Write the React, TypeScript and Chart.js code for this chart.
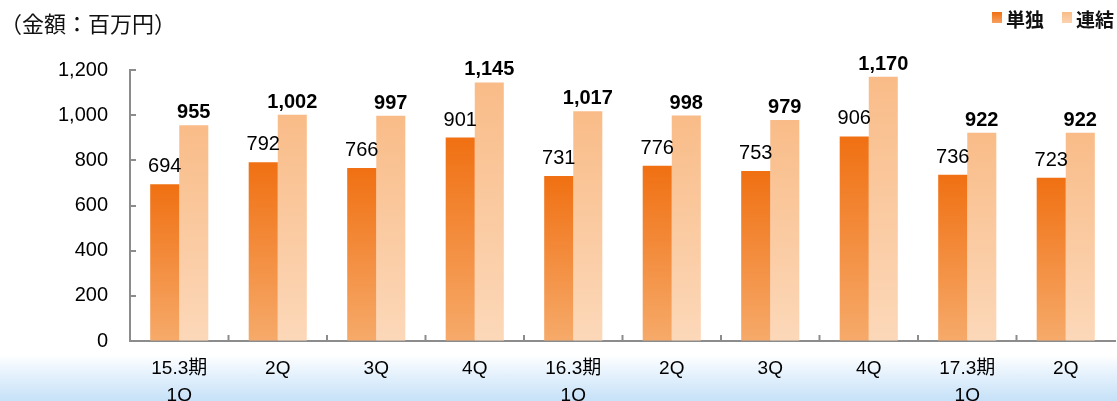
import React, { useEffect, useRef } from "react";
import { Chart, registerables } from "chart.js";

Chart.register(...registerables);

const categories: (string | string[])[] = [
  ["15.3期", "1Q"], "2Q", "3Q", "4Q",
  ["16.3期", "1Q"], "2Q", "3Q", "4Q",
  ["17.3期", "1Q"], "2Q",
];
const tandoku = [694, 792, 766, 901, 731, 776, 753, 906, 736, 723];
const renketsu = [955, 1002, 997, 1145, 1017, 998, 979, 1170, 922, 922];
const seriesNames = ["単独", "連結"];
const yMin = 0;
const yMax = 1200;
const yStep = 200;

const FONT = '"Liberation Sans", "Noto Sans CJK JP", sans-serif';
const CJK = '"Noto Sans CJK JP", "Liberation Sans", sans-serif';

function barGradient(top: string, bottom: string) {
  return (ctx: any) => {
    const chart = ctx.chart;
    const area = chart.chartArea;
    if (!area || ctx.type !== "data" || !chart.scales.y) return top;
    const yTop = chart.scales.y.getPixelForValue(ctx.parsed ? ctx.parsed.y : yMax);
    const g = chart.ctx.createLinearGradient(0, yTop, 0, area.bottom);
    g.addColorStop(0, top);
    g.addColorStop(1, bottom);
    return g;
  };
}

const innerTicks = {
  id: "innerTicks",
  afterDraw(chart: any) {
    const { ctx, chartArea } = chart;
    const ys = chart.scales.y;
    const xs = chart.scales.x;
    ctx.save();
    ctx.strokeStyle = "#8c8c8c";
    ctx.lineWidth = 2;
    ys.ticks.forEach((t: any) => {
      const y = Math.round(ys.getPixelForValue(t.value));
      ctx.beginPath();
      ctx.moveTo(chartArea.left, y);
      ctx.lineTo(chartArea.left + 6, y);
      ctx.stroke();
    });
    for (let i = 1; i < categories.length; i++) {
      const x = (xs.getPixelForTick(i - 1) + xs.getPixelForTick(i)) / 2;
      ctx.beginPath();
      ctx.moveTo(x, chartArea.bottom);
      ctx.lineTo(x, chartArea.bottom - 6);
      ctx.stroke();
    }
    ctx.restore();
  },
};

const valueLabels = {
  id: "valueLabels",
  afterDatasetsDraw(chart: any) {
    const { ctx } = chart;
    ctx.save();
    ctx.fillStyle = "#000";
    ctx.textAlign = "center";
    ctx.textBaseline = "alphabetic";
    chart.data.datasets.forEach((ds: any, di: number) => {
      const meta = chart.getDatasetMeta(di);
      ctx.font = (di === 1 ? "bold " : "") + "20px " + FONT;
      const off = di === 1 ? 7 : 12;
      meta.data.forEach((bar: any, i: number) => {
        const v = ds.data[i] as number;
        ctx.fillText(v.toLocaleString("en-US"), bar.x, bar.y - off);
      });
    });
    ctx.restore();
  },
};

export default function App() {
  const ref = useRef<HTMLCanvasElement>(null);

  useEffect(() => {
    document.body.style.margin = "0";
    const chart = new Chart(ref.current!, {
      type: "bar",
      data: {
        labels: categories as any,
        datasets: [
          {
            label: seriesNames[0],
            data: tandoku,
            backgroundColor: barGradient("#f07012", "#f6aa6a"),
            borderWidth: 0,
            categoryPercentage: 0.59,
            barPercentage: 1,
          },
          {
            label: seriesNames[1],
            data: renketsu,
            backgroundColor: barGradient("#f9bc88", "#fcd8b9"),
            borderWidth: 0,
            categoryPercentage: 0.59,
            barPercentage: 1,
          },
        ],
      },
      options: {
        responsive: false,
        animation: false,
        layout: { padding: { top: 70, right: 2, left: 0, bottom: 0 } },
        plugins: {
          legend: { display: false },
          title: { display: false },
          tooltip: { enabled: false },
        },
        scales: {
          x: {
            grid: { display: true, drawOnChartArea: false, drawTicks: false },
            border: { color: "#8c8c8c", width: 2 },
            ticks: {
              color: "#000",
              font: { family: FONT, size: 19, lineHeight: 1.42 },
              padding: 14,
              maxRotation: 0,
              autoSkip: false,
            },
            afterFit: (s: any) => {
              s.height = 60;
            },
          },
          y: {
            min: yMin,
            max: yMax,
            grid: { display: true, drawOnChartArea: false, drawTicks: false },
            border: { color: "#8c8c8c", width: 2 },
            ticks: {
              stepSize: yStep,
              color: "#000",
              font: { family: FONT, size: 20 },
              padding: 22,
              callback: (v: any) => Number(v).toLocaleString("en-US"),
            },
            afterFit: (s: any) => {
              s.width = 130;
            },
          },
        },
      },
      plugins: [innerTicks, valueLabels],
    });
    return () => chart.destroy();
  }, []);

  return (
    <div
      style={{
        position: "fixed",
        left: 0,
        top: 0,
        width: 1117,
        height: 401,
        background: "#fff",
        overflow: "hidden",
      }}
    >
      <div
        style={{
          position: "absolute",
          left: 0,
          top: 355,
          width: 1117,
          height: 46,
          background: "linear-gradient(to bottom, #ffffff 0%, #e6f2fc 40%, #c6e1f8 100%)",
        }}
      />
      <canvas
        ref={ref}
        width={1117}
        height={401}
        style={{ position: "absolute", left: 0, top: 0 }}
      />
      <div
        style={{
          position: "absolute",
          left: 0,
          top: 11,
          fontFamily: CJK,
          fontSize: 22,
          lineHeight: "22px",
          color: "#111",
          whiteSpace: "nowrap",
        }}
      >
        （金額：百万円）
      </div>
      <div
        style={{
          position: "absolute",
          left: 992,
          top: 12,
          width: 10,
          height: 11,
          background: "linear-gradient(to bottom, #f07012, #f6a060)",
        }}
      />
      <div
        style={{
          position: "absolute",
          left: 1006,
          top: 9,
          fontFamily: CJK,
          fontWeight: "bold",
          fontSize: 19,
          lineHeight: "19px",
          color: "#111",
          whiteSpace: "nowrap",
        }}
      >
        {seriesNames[0]}
      </div>
      <div
        style={{
          position: "absolute",
          left: 1062,
          top: 12,
          width: 10,
          height: 11,
          background: "linear-gradient(to bottom, #f9bc88, #fcd3b0)",
        }}
      />
      <div
        style={{
          position: "absolute",
          left: 1076,
          top: 9,
          fontFamily: CJK,
          fontWeight: "bold",
          fontSize: 19,
          lineHeight: "19px",
          color: "#111",
          whiteSpace: "nowrap",
        }}
      >
        {seriesNames[1]}
      </div>
    </div>
  );
}
